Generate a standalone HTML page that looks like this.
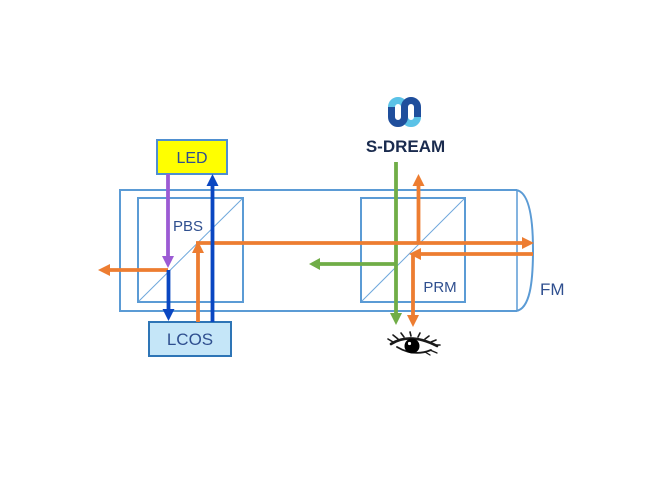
<!DOCTYPE html>
<html>
<head>
<meta charset="utf-8">
<style>
  html, body { margin:0; padding:0; background:#ffffff; }
  body { width:650px; height:481px; overflow:hidden; }
  svg { display:block; }
  .lbl { font-family: "Liberation Sans", sans-serif; fill:#2f4f8f; }
</style>
</head>
<body>
<svg width="650" height="481" viewBox="0 0 650 481" xmlns="http://www.w3.org/2000/svg">
  <rect x="0" y="0" width="650" height="481" fill="#ffffff"/>

  <!-- outer housing -->
  <path d="M517,190 H120 V311 H517" fill="none" stroke="#5b9bd5" stroke-width="2"/>
  <line x1="517" y1="190" x2="517" y2="311" stroke="#5b9bd5" stroke-width="1.5"/>
  <path d="M516,190 C530,192 533,222 533,250 C533,282 530,309 516,311" fill="none" stroke="#5b9bd5" stroke-width="2"/>

  <!-- PBS cube -->
  <rect x="138" y="198" width="105" height="104" fill="none" stroke="#5b9bd5" stroke-width="2"/>
  <line x1="139" y1="301" x2="242" y2="199" stroke="#6fa8dc" stroke-width="1"/>
  <!-- PRM cube -->
  <rect x="361" y="198" width="104" height="104" fill="none" stroke="#5b9bd5" stroke-width="2"/>
  <line x1="362" y1="301" x2="464" y2="199" stroke="#6fa8dc" stroke-width="1"/>

  <!-- LED -->
  <rect x="157" y="140" width="70" height="34" fill="#ffff00" stroke="#4f8fd0" stroke-width="2"/>
  <text x="192" y="163" text-anchor="middle" class="lbl" font-size="16">LED</text>
  <!-- LCOS -->
  <rect x="149" y="322" width="82" height="34" fill="#c5e6f8" stroke="#2e75b6" stroke-width="2"/>
  <text x="190" y="345" text-anchor="middle" class="lbl" font-size="17">LCOS</text>

  <text x="188" y="231" text-anchor="middle" class="lbl" font-size="15">PBS</text>
  <text x="440" y="292" text-anchor="middle" class="lbl" font-size="15">PRM</text>
  <text x="540" y="295" class="lbl" font-size="17">FM</text>

  <!-- green -->
  <line x1="396" y1="162" x2="396" y2="314" stroke="#70ad47" stroke-width="3.8"/>
  <polygon points="390,313 402,313 396,325" fill="#70ad47"/>
  <line x1="396" y1="264" x2="319" y2="264" stroke="#70ad47" stroke-width="3.8"/>
  <polygon points="320,258 320,270 309,264" fill="#70ad47"/>

  <!-- orange -->
  <line x1="168" y1="270" x2="109" y2="270" stroke="#ed7d31" stroke-width="3.8"/>
  <polygon points="110,264 110,276 98,270" fill="#ed7d31"/>

  <line x1="198" y1="322" x2="198" y2="252" stroke="#ed7d31" stroke-width="3.8"/>
  <polygon points="192,253 204,253 198,241" fill="#ed7d31"/>
  <line x1="196" y1="243" x2="523" y2="243" stroke="#ed7d31" stroke-width="3.8"/>
  <polygon points="522,237 522,249 534,243" fill="#ed7d31"/>

  <line x1="418.5" y1="243" x2="418.5" y2="185" stroke="#ed7d31" stroke-width="3.8"/>
  <polygon points="412.5,186 424.5,186 418.5,174" fill="#ed7d31"/>

  <line x1="533" y1="254" x2="419" y2="254" stroke="#ed7d31" stroke-width="3.8"/>
  <polygon points="421,248 421,260 409,254" fill="#ed7d31"/>
  <line x1="413" y1="254" x2="413" y2="316" stroke="#ed7d31" stroke-width="3.8"/>
  <polygon points="407,315 419,315 413,327" fill="#ed7d31"/>

  <!-- purple -->
  <line x1="168" y1="174" x2="168" y2="258" stroke="#9c5bd4" stroke-width="3.8"/>
  <polygon points="162,256 174,256 168,268" fill="#9c5bd4"/>

  <!-- dark blue -->
  <line x1="168.5" y1="270" x2="168.5" y2="311" stroke="#0a47c2" stroke-width="3.8"/>
  <polygon points="162.5,309 174.5,309 168.5,321" fill="#0a47c2"/>
  <line x1="212.5" y1="322" x2="212.5" y2="184" stroke="#0a47c2" stroke-width="3.8"/>
  <polygon points="206.5,186 218.5,186 212.5,174" fill="#0a47c2"/>

  <!-- S-DREAM logo -->
  <path d="M391.5,107 A6.5,6.5 0 0 1 404.5,107" fill="none" stroke="#5bc2e7" stroke-width="7"/>
  <path d="M404.5,117 A6.5,6.5 0 0 0 417.5,117" fill="none" stroke="#5bc2e7" stroke-width="7"/>
  <path d="M391.5,107 V117 A6.5,6.5 0 0 0 404.5,117 V107 A6.5,6.5 0 0 1 417.5,107 V117" fill="none" stroke="#1f4e9c" stroke-width="7"/>
  <text x="405.5" y="152" text-anchor="middle" font-family="Liberation Sans, sans-serif" font-weight="bold" font-size="17" fill="#1a2b4e">S-DREAM</text>

  <!-- eye -->
  <g fill="none" stroke="#1a1a1a" stroke-linecap="round">
    <path d="M391,344 Q410,332 437,346" stroke-width="2.6"/>
    <path d="M397,347 Q414,357 431,350" stroke-width="1.8"/>
    <path d="M393,342 L388,339 M398,339 L393,335 M404,337 L401,333 M411,336 L410,332 M418,337 L420,333 M425,339 L429,336 M431,342 L436,340 M434,345 L440,345" stroke-width="1.6"/>
    <path d="M430,350 L437,353 M425,352 L430,355" stroke-width="1.3"/>
  </g>
  <circle cx="412" cy="346" r="7.5" fill="#000"/>
  <circle cx="409.5" cy="343.5" r="1.6" fill="#fff"/>
</svg>
</body>
</html>
